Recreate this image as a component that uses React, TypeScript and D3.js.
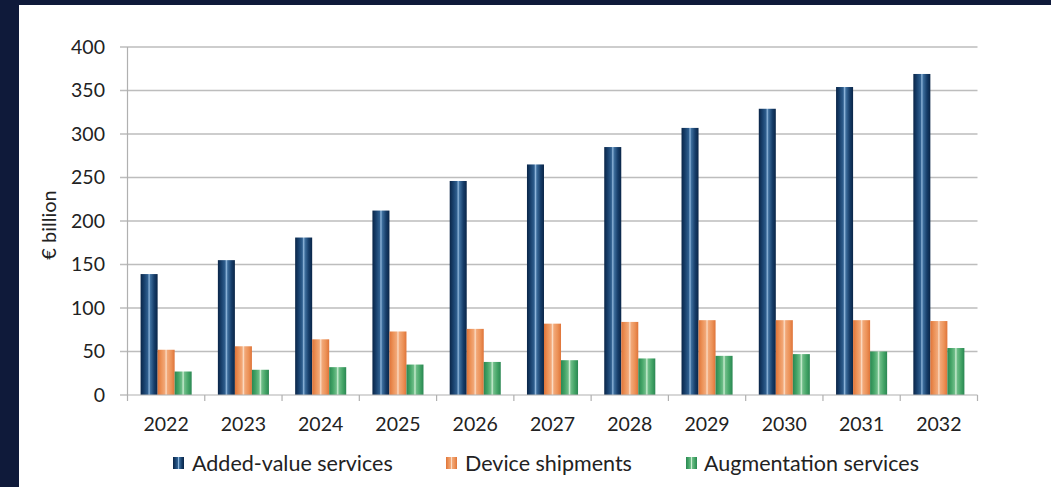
import React from "react";
import * as d3 from "d3";

const years = ["2022", "2023", "2024", "2025", "2026", "2027", "2028", "2029", "2030", "2031", "2032"];
const seriesNames = ["Added-value services", "Device shipments", "Augmentation services"];
const addedValue = [139, 155, 181, 212, 246, 265, 285, 307, 329, 354, 369];
const deviceShipments = [52, 56, 64, 73, 76, 82, 84, 86, 86, 86, 85];
const augmentation = [27, 29, 32, 35, 38, 40, 42, 45, 47, 50, 54];
const yTicks = [0, 50, 100, 150, 200, 250, 300, 350, 400];

const seriesValues = [addedValue, deviceShipments, augmentation];

// Horizontal stripe gradients giving each bar a cylindrical sheen
const gradients = [
  { id: "g-blue", stops: [["0%", "#0a2547"], ["20%", "#173f6b"], ["42%", "#2f5f8f"], ["50%", "#8fb6db"], ["58%", "#3d6e9d"], ["80%", "#163d69"], ["100%", "#0a2547"]] },
  { id: "g-orange", stops: [["0%", "#df7439"], ["22%", "#ec9258"], ["42%", "#f2a878"], ["50%", "#fbdcc4"], ["58%", "#f2a878"], ["80%", "#ec9258"], ["100%", "#df7439"]] },
  { id: "g-green", stops: [["0%", "#2a8752"], ["22%", "#43a466"], ["42%", "#6ebd88"], ["50%", "#cdeed3"], ["58%", "#6ebd88"], ["80%", "#43a466"], ["100%", "#2a8752"]] },
];

const W = 1051;
const H = 487;
const FONT = "Lato, 'Open Sans', sans-serif";
const TEXT = "#222222";

export default function App() {
  const x0 = d3.scaleBand<string>().domain(years).range([127.5, 977.5]).padding(0);
  const x1 = d3
    .scaleBand<number>()
    .domain([0, 1, 2])
    .range([0, x0.bandwidth()])
    .paddingInner(0)
    .paddingOuter(0.77);
  const y = d3.scaleLinear().domain([0, 400]).range([395, 47]);

  const boundaries = years.map((yr) => x0(yr) as number).concat([977.5]);

  const legendItems = [
    { marker: 173, text: 192 },
    { marker: 446, text: 465 },
    { marker: 686, text: 704 },
  ];

  return (
    <svg
      width={W}
      height={H}
      style={{ position: "absolute", left: 0, top: 0, display: "block" }}
      fontFamily={FONT}
    >
      <defs>
        {gradients.map((g) => (
          <linearGradient key={g.id} id={g.id} x1="0" x2="1" y1="0" y2="0">
            {g.stops.map(([o, c]) => (
              <stop key={o} offset={o} stopColor={c} />
            ))}
          </linearGradient>
        ))}
      </defs>
      <rect x={0} y={0} width={W} height={H} fill="#0f1a3a" />
      <rect x={19} y={5} width={W - 19} height={H - 5} fill="#ffffff" />

      {/* gridlines */}
      {yTicks.map((t) =>
        t === 0 ? null : (
          <line key={t} x1={120} x2={977.5} y1={y(t)} y2={y(t)} stroke="#bdbdbd" strokeWidth={1.5} />
        )
      )}
      {/* y axis */}
      <line x1={127.5} x2={127.5} y1={y(400)} y2={y(0)} stroke="#b0b0b0" strokeWidth={1.2} />
      <line x1={120} x2={127.5} y1={y(0)} y2={y(0)} stroke="#b0b0b0" strokeWidth={1.2} />
      {yTicks.map((t) => (
        <text key={t} x={105} y={y(t)} dy="0.35em" textAnchor="end" fontSize={19.5} fill={TEXT}>
          {t}
        </text>
      ))}
      <text
        transform={`translate(56,225) rotate(-90)`}
        textAnchor="middle"
        fontSize={20}
        fill={TEXT}
      >
        € billion
      </text>

      {/* bars */}
      {years.map((yr, i) => (
        <g key={yr} transform={`translate(${x0(yr)},0)`}>
          {seriesValues.map((vals, s) => (
            <rect
              key={s}
              x={x1(s)}
              y={y(vals[i])}
              width={x1.bandwidth()}
              height={y(0) - y(vals[i])}
              fill={`url(#${gradients[s].id})`}
            />
          ))}
        </g>
      ))}

      {/* x axis */}
      <line x1={127.5} x2={977.5} y1={y(0)} y2={y(0)} stroke="#b0b0b0" strokeWidth={1.2} />
      {boundaries.map((bx, i) => (
        <line key={i} x1={bx} x2={bx} y1={y(0)} y2={y(0) + 6} stroke="#b0b0b0" strokeWidth={1.2} />
      ))}
      {years.map((yr) => (
        <text
          key={yr}
          x={(x0(yr) as number) + x0.bandwidth() / 2}
          y={424}
          dy="0.35em"
          textAnchor="middle"
          fontSize={19.5}
          fill={TEXT}
        >
          {yr}
        </text>
      ))}

      {/* legend */}
      {seriesNames.map((name, s) => (
        <g key={name}>
          <rect x={legendItems[s].marker} y={457} width={11} height={12} fill={`url(#${gradients[s].id})`} />
          <text x={legendItems[s].text} y={463} dy="0.35em" fontSize={21.5} fill={TEXT}>
            {name}
          </text>
        </g>
      ))}
    </svg>
  );
}
